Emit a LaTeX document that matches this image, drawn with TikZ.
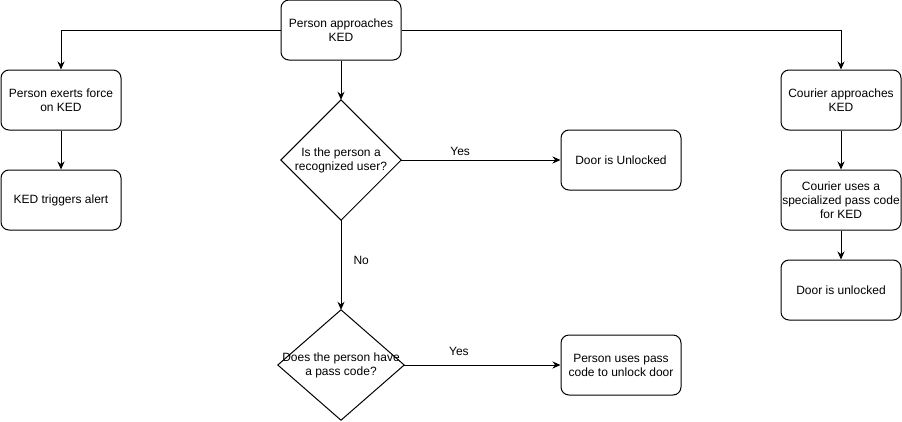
\documentclass[tikz,border=0pt]{standalone}
\usepackage{fontspec}
\setmainfont{Liberation Sans}
\usetikzlibrary{arrows.meta}
\begin{document}
\begin{tikzpicture}[x=1pt,y=-1pt,
  font=\fontsize{12}{14}\selectfont,
  box/.style={draw,line width=1pt,rounded corners=8pt,minimum width=120pt,minimum height=60pt,align=center,inner sep=0pt},
  decision/.style={align=center,inner sep=0pt},
  rhombus/.style={draw,line width=1pt},
  link/.style={draw,line width=1pt,-{Stealth[length=8pt,width=7pt]}},
  lbl/.style={font=\fontsize{12}{14}\selectfont,inner sep=0pt}]
\useasboundingbox (0,0) rectangle (902,421);

\node[box] (start) at (341,30) {Person approaches\\KED};
\node[box] (force) at (61,100) {Person exerts force\\on KED};
\node[box] (alert) at (61,200) {KED triggers alert};
\node[box] (unl) at (621,160) {Door is Unlocked};
\node[box] (usep) at (621,365) {Person uses pass\\code to unlock door};
\node[box] (cour) at (841,100) {Courier approaches\\KED};
\node[box] (cuse) at (841,200) {Courier uses a\\specialized pass code\\for KED};
\node[box] (cunl) at (841,290) {Door is unlocked};

% decisions: text nodes sized to the diamond, outline drawn through their anchors
\node[decision,minimum width=120pt,minimum height=120pt] (recog) at (341,160) {Is the person a\\recognized user?};
\draw[rhombus] (recog.north) -- (recog.east) -- (recog.south) -- (recog.west) -- cycle;
\node[decision,minimum width=126pt,minimum height=110pt] (pass) at (341,365) {Does the person have\\a pass code?};
\draw[rhombus] (pass.north) -- (pass.east) -- (pass.south) -- (pass.west) -- cycle;

\path[link] (start.west) -| (force.north);
\path[link] (start.east) -| (cour.north);
\path[link] (start.south) -- (recog.north);
\path[link] (force.south) -- (alert.north);
\path[link] (recog.east) -- node[lbl,above=4pt,pos=0.37] {Yes} (unl.west);
\path[link] (recog.south) -- node[lbl,right=12pt,pos=0.45] {No} (pass.north);
\path[link] (pass.east) -- node[lbl,above=9pt,pos=0.35] {Yes} (usep.west);
\path[link] (cour.south) -- (cuse.north);
\path[link] (cuse.south) -- (cunl.north);
\end{tikzpicture}
\end{document}
